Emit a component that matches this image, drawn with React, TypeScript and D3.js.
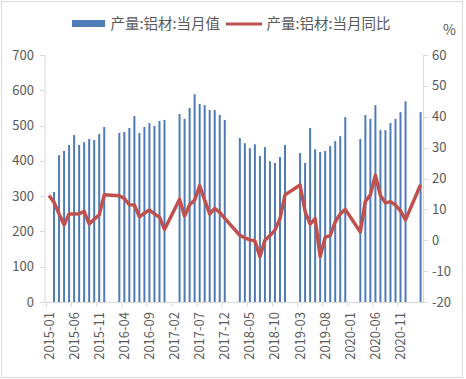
import React from "react";
import * as d3 from "d3";

// Monthly categories 2015-01 .. 2021-03
const years = [2015, 2016, 2017, 2018, 2019, 2020, 2021];
const months: string[] = [];
years.forEach((y) => {
  for (let m = 1; m <= 12; m++) {
    if (y === 2021 && m > 3) break;
    months.push(`${y}-${String(m).padStart(2, "0")}`);
  }
});

// 产量:铝材:当月值 (万吨)
const output2015 = [null, 312, 416, 428, 445, 473, 445, 453, 462, 459, 476, 496];
const output2016 = [null, null, 479, 482, 493, 527, 479, 496, 507, 499, 513, 516];
const output2017 = [null, null, 533, 519, 550, 589, 561, 558, 544, 544, 530, 516];
const output2018 = [null, null, 465, 450, 436, 447, 414, 439, 399, 394, 411, 445];
const output2019 = [null, null, 422, 394, 493, 433, 425, 428, 442, 456, 470, 524];
const output2020 = [null, null, 462, 530, 519, 558, 487, 487, 507, 519, 538, 569];
const output2021 = [null, null, 538];

// 产量:铝材:当月同比 (%)
const yoy2015 = [14.5, 12.3, 8.5, 5.0, 8.5, 8.5, 8.6, 9.3, 5.3, 6.8, 8.2, 14.7];
const yoy2016 = [null, null, 14.4, 13.5, 11.5, 11.4, 7.6, 8.8, 9.8, 8.5, 7.5, 3.5];
const yoy2017 = [null, null, 13.3, 7.8, 11.5, 13.0, 17.6, 13.0, 8.5, 10.3, 9.0, 7.1];
const yoy2018 = [null, null, 1.6, 0.8, 0.1, -0.2, -5.3, 0.0, 1.5, 3.3, 7.0, 14.7];
const yoy2019 = [null, null, 17.9, 9.3, 5.2, 7.0, -5.3, 1.0, 1.5, 6.0, 8.5, 10.0];
const yoy2020 = [null, null, 2.7, 12.6, 14.7, 21.1, 14.5, 12.1, 12.5, 11.4, 9.5, 6.6];
const yoy2021 = [null, null, 18.0];

const leftTicks = [0, 100, 200, 300, 400, 500, 600, 700];
const rightTicks = [-20, -10, 0, 10, 20, 30, 40, 50, 60];
const seriesNames = ["产量:铝材:当月值", "产量:铝材:当月同比"];

const outputValues: (number | null)[] = [
  ...output2015, ...output2016, ...output2017, ...output2018,
  ...output2019, ...output2020, ...output2021,
];
const yoyValues: (number | null)[] = [
  ...yoy2015, ...yoy2016, ...yoy2017, ...yoy2018,
  ...yoy2019, ...yoy2020, ...yoy2021,
];

const W = 466;
const H = 379;
const BLUE = "#4F7CB6";
const RED = "#C0504D";
const AXIS = "#D9D9D9";
const TXT = "#595959";
const FONT = "'Noto Sans CJK SC', 'Liberation Sans', sans-serif";

export default function App() {
  const x = d3.scaleBand<string>().domain(months).range([46.5, 423.1]);
  const cx = (m: string) => (x(m) as number) + x.bandwidth() / 2;
  const yL = d3.scaleLinear().domain([0, 700]).range([302, 55]);
  const yR = d3.scaleLinear().domain([-20, 60]).range([302, 55]);

  const linePts = months
    .map((m, i) => ({ m, v: yoyValues[i] }))
    .filter((d) => d.v !== null && d.v !== undefined) as { m: string; v: number }[];
  const lineGen = d3
    .line<{ m: string; v: number }>()
    .x((d) => cx(d.m))
    .y((d) => yR(d.v));

  const barW = 2;

  return (
    <svg
      width={W}
      height={H}
      style={{ position: "absolute", left: 0, top: 0, background: "#fff" }}
      fontFamily={FONT}
    >
      <rect x={1.5} y={1.5} width={461} height={376} fill="#fff" stroke={AXIS} />

      {/* Legend */}
      <rect x={72} y={20} width={33} height={7} fill={BLUE} />
      <text x={110.5} y={29} fontSize={14.5} fill={TXT}>{seriesNames[0]}</text>
      <line x1={226} x2={262} y1={24} y2={24} stroke={RED} strokeWidth={3.2} />
      <text x={266.5} y={29} fontSize={14.5} fill={TXT}>{seriesNames[1]}</text>
      <text x={443} y={35} fontSize={14} fill={TXT}>%</text>

      {/* Axes lines */}
      <line x1={45} x2={45} y1={55} y2={302} stroke={AXIS} />
      <line x1={423.5} x2={423.5} y1={55} y2={302} stroke={AXIS} />
      <line x1={45} x2={423.5} y1={302.5} y2={302.5} stroke={AXIS} />

      {leftTicks.map((t) => (
        <g key={"l" + t}>
          <line x1={40} x2={45} y1={Math.round(yL(t)) + 0.5} y2={Math.round(yL(t)) + 0.5} stroke={AXIS} />
          <text x={34} y={yL(t) + 4.5} fontSize={13} fill={TXT} textAnchor="end">{t}</text>
        </g>
      ))}
      {rightTicks.map((t) => (
        <g key={"r" + t}>
          <line x1={423.5} x2={428.5} y1={Math.round(yR(t)) + 0.5} y2={Math.round(yR(t)) + 0.5} stroke={AXIS} />
          <text x={432} y={yR(t) + 4.5} fontSize={13} fill={TXT}>{t}</text>
        </g>
      ))}

      {months.map((m, i) =>
        i % 5 === 0 ? (
          <g key={"x" + m}>
            <line
              x1={(x(m) as number)}
              x2={(x(m) as number)}
              y1={302}
              y2={307}
              stroke={AXIS}
            />
            <text
              transform={`translate(${cx(m) + 4.5},312) rotate(-90)`}
              fontSize={13}
              fill={TXT}
              textAnchor="end"
            >
              {m}
            </text>
          </g>
        ) : null
      )}

      {/* Bars */}
      {months.map((m, i) => {
        const v = outputValues[i];
        if (v === null || v === undefined) return null;
        return (
          <rect
            key={"b" + m}
            x={cx(m) - barW / 2}
            y={yL(v)}
            width={barW}
            height={yL(0) - yL(v)}
            fill={BLUE}
          />
        );
      })}

      {/* Line */}
      <path
        d={lineGen(linePts) || ""}
        fill="none"
        stroke={RED}
        strokeWidth={3.5}
        strokeLinejoin="round"
        strokeLinecap="butt"
      />
    </svg>
  );
}
